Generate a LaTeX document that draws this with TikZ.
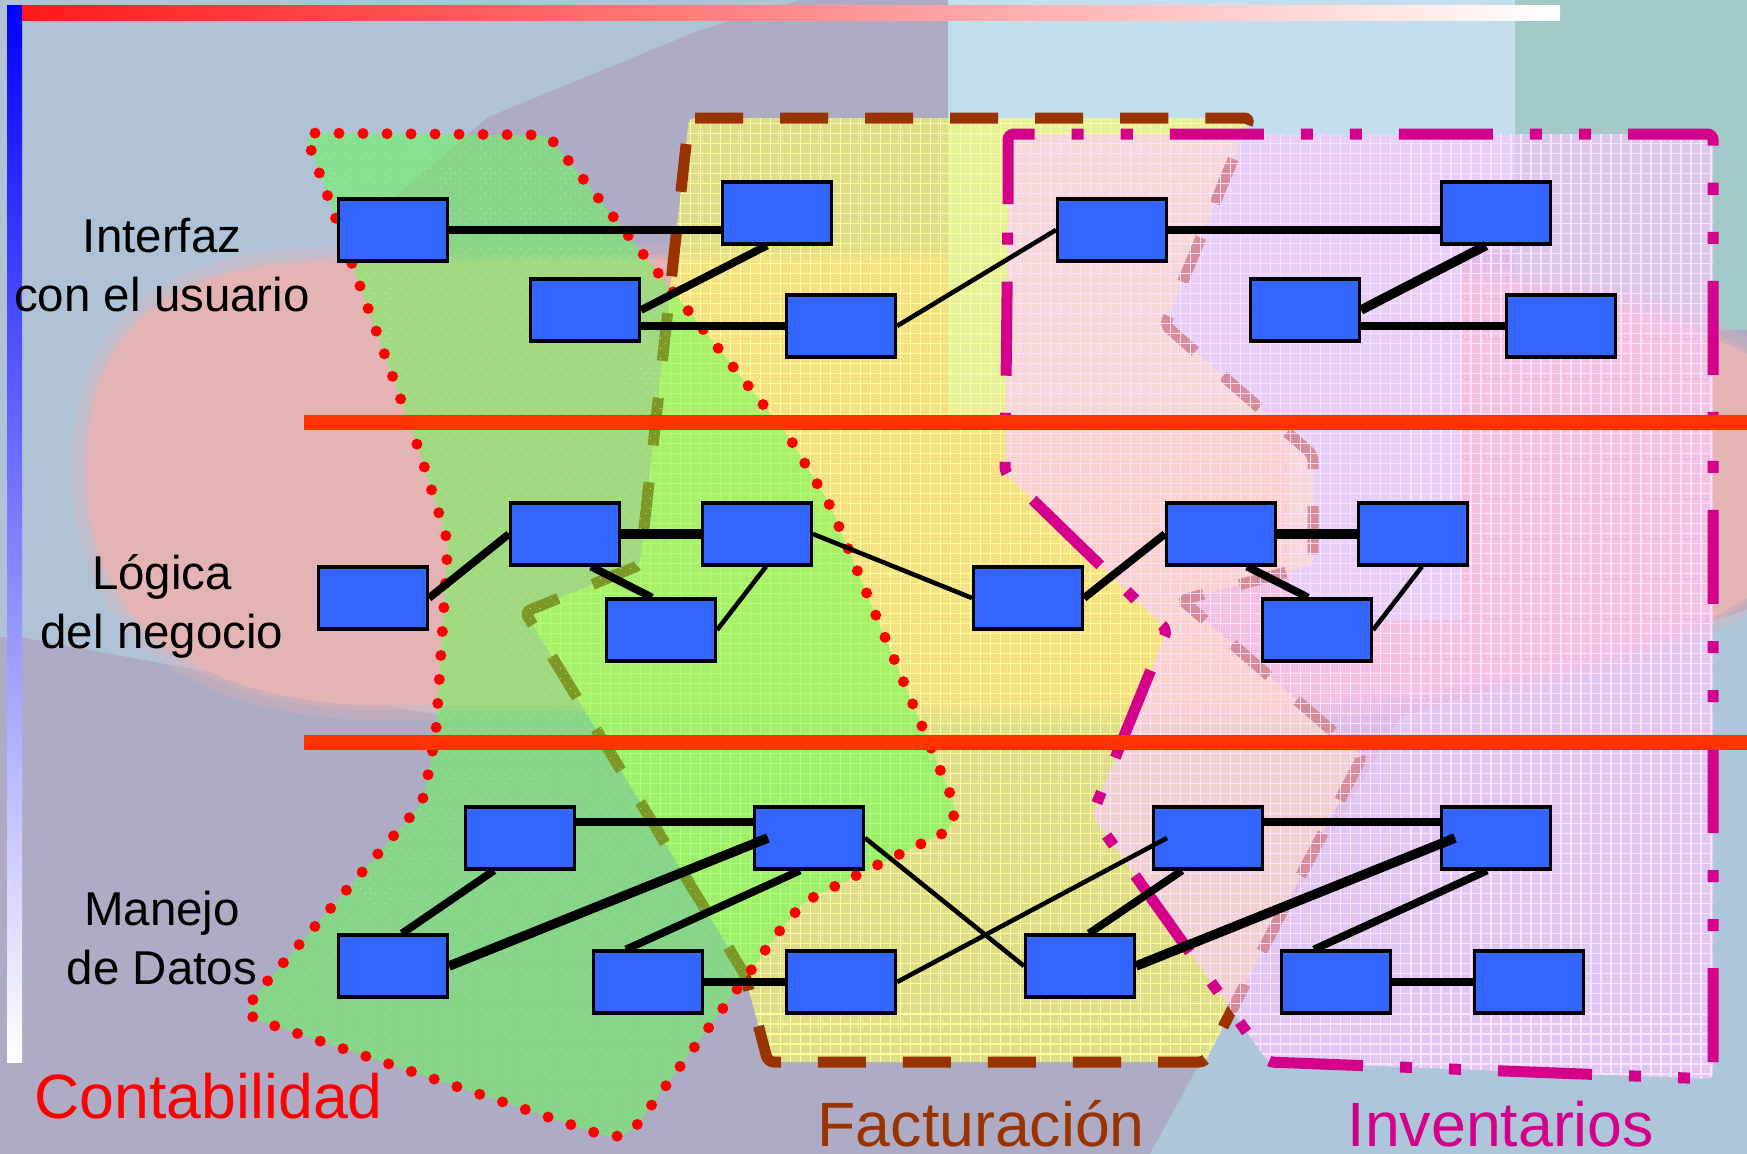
\documentclass[tikz,border=0pt]{standalone}
\usepackage{fontspec}
\setmainfont{Liberation Sans}
\usetikzlibrary{patterns.meta}

\definecolor{modazul}{HTML}{3366FF}
\definecolor{rojocapa}{HTML}{FF3300}
\definecolor{contarojo}{HTML}{FF0000}
\definecolor{factcafe}{HTML}{993300}
\definecolor{invmagenta}{HTML}{D4008C}
\definecolor{contaverde}{HTML}{60FF50}
\definecolor{factamarillo}{HTML}{FFFF66}
\definecolor{invrosa}{HTML}{FFC8FF}
\definecolor{tramaverde}{HTML}{B0FFA0}
\definecolor{tramaamarilla}{HTML}{FFFF99}
\definecolor{tramarosa}{HTML}{FFE0FF}
\definecolor{fondo}{HTML}{AEABC4}
\definecolor{fondoazul}{HTML}{B0C2D6}
\definecolor{fondocielo}{HTML}{C2DEEF}
\definecolor{fondoverde}{HTML}{A2C8C8}
\definecolor{fondorosa}{HTML}{E4B4B4}
\definecolor{fondoclaro}{HTML}{AEC6DA}

\tikzset{
  modulo/.style={draw=black, line width=1pt, fill=modazul, minimum width=1.085cm, minimum height=0.615cm, inner sep=0pt},
  enlace/.style={line width=2.2pt},
  enlacegrueso/.style={line width=2.7pt},
  enlacefino/.style={line width=1.3pt},
  capa/.style={align=center, inner sep=0pt, font=\fontsize{13.5}{16.8}\selectfont},
  sistema/.style={anchor=base west, inner sep=0pt, text depth=0pt, font=\fontsize{17.8}{21}\selectfont},
  separador/.style={draw=rojocapa, line width=0.15cm},
  trama/.style={pattern={Hatch[distance=0.1cm, line width=0.012cm]}, pattern color=#1, fill opacity=0.55},
  conta/.style={preaction={fill=contaverde, fill opacity=0.5}, trama=tramaverde,
    draw=contarojo, line width=0.11cm, line cap=round, dash pattern=on 0cm off 0.24cm, rounded corners=0.1cm},
  fact/.style={preaction={fill=factamarillo, fill opacity=0.6}, trama=tramaamarilla,
    draw=factcafe, line width=0.11cm, dash pattern=on 0.48cm off 0.37cm, rounded corners=0.06cm},
  inv/.style={preaction={fill=invrosa, fill opacity=0.6}, trama=tramarosa,
    draw=invmagenta, line width=0.11cm, dash pattern=on 0.94cm off 0.37cm on 0.12cm off 0.37cm on 0.12cm off 0.37cm, rounded corners=0.06cm}
}

\begin{document}
\begin{tikzpicture}[x=0.01cm, y=-0.01cm]
	\useasboundingbox (0,0) rectangle (1747,1154);

	\fill[fondo] (0,0) rectangle (1747,1154);
	\fill[fondoazul] (0,0) -- (800,0) -- (700,30) -- (488,117) -- (380,210) -- (440,715) -- (20,637) -- (0,637) -- cycle;
	\fill[fondoverde] (1515,0) rectangle (1747,330);
	\fill[fondoclaro] (1150,1154) -- (1240,990) -- (1400,717) -- (1747,610) -- (1747,1154) -- cycle;
	\foreach \w/\o in {0.4cm/0.3, 0.2cm/0.4, 0.1cm/1}
		\filldraw[fondorosa, line width=\w, opacity=\o] (92,470) .. controls (92,330) and (170,268) .. (340,266) -- (1100,262)
			.. controls (1600,262) and (1830,350) .. (1830,470) .. controls (1830,600) and (1600,695) .. (1200,705)
			-- (360,700) .. controls (180,690) and (92,610) .. (92,470) -- cycle;
	\fill[fondocielo] (948,0) -- (1515,0) -- (1515,250) -- (1460,250) -- (1460,620) -- (1290,620) -- (1290,430) -- (948,430) -- cycle;

	\shade[left color=red!90!white, right color=white] (22,5) rectangle (1560,20);
	\shade[top color=blue, bottom color=white] (7,5) rectangle (22,1062);

	\path[fact] (689,118) -- (1250,118) -- (1165,325) -- (1313,455) -- (1313,565) -- (1182,600) -- (1362,757)
		-- (1205,1062) -- (768,1062) -- (745,975) -- (525,612) -- (640,565) -- cycle;
	\path[conta] (305,133) -- (548,135) -- (789,437) -- (830,505) -- (956,808) -- (950,830) -- (933,838)
		-- (867,870) -- (804,902) -- (772,940) -- (760,958) -- (631,1133) -- (611,1138) -- (248,1017)
		-- (251,1000) -- (423,802) -- (436,732) -- (442,637) -- (448,542) -- (419,450) -- cycle;
	\path[inv] (1008,210) -- (1008,134) -- (1713,134) -- (1713,1079) -- (1268,1062) -- (1092,815)
		-- (1167,630) -- (1005,473) -- cycle;

	\draw[separador] (304,422) -- (1747,422);
	\draw[separador] (304,742) -- (1747,742);

	\node [modulo] (A1) at (393,230)  {};
	\node [modulo] (A2) at (777,213)  {};
	\node [modulo] (A3) at (585,310)  {};
	\node [modulo] (A4) at (841,326)  {};
	\node [modulo] (A5) at (1112,230) {};
	\node [modulo] (A6) at (1496,213) {};
	\node [modulo] (A7) at (1305,310) {};
	\node [modulo] (A8) at (1561,326) {};

	\node [modulo] (B1) at (373,598)  {};
	\node [modulo] (B2) at (565,534)  {};
	\node [modulo] (B3) at (757,534)  {};
	\node [modulo] (B4) at (661,630)  {};
	\node [modulo] (B5) at (1028,598) {};
	\node [modulo] (B6) at (1221,534) {};
	\node [modulo] (B7) at (1413,534) {};
	\node [modulo] (B8) at (1317,630) {};

	\node [modulo] (C1)  at (520,838)  {};
	\node [modulo] (C2)  at (809,838)  {};
	\node [modulo] (C3)  at (393,966)  {};
	\node [modulo] (C4)  at (648,982)  {};
	\node [modulo] (C5)  at (841,982)  {};
	\node [modulo] (C6)  at (1208,838) {};
	\node [modulo] (C7)  at (1496,838) {};
	\node [modulo] (C8)  at (1080,966) {};
	\node [modulo] (C9)  at (1336,982) {};
	\node [modulo] (C10) at (1529,982) {};

	\draw [enlace]       (A1.east) -- (A1.east -| A2.west);
	\draw [enlace]       ([xshift=-1mm]A2.south) -- (A3.east);
	\draw [enlace]       (A4.west -| A3.east) -- (A4.west);
	\draw [enlacefino]   (A4.east) -- (A5.west);
	\draw [enlace]       (A5.east) -- (A5.east -| A6.west);
	\draw [enlacegrueso] ([xshift=-1mm]A6.south) -- (A7.east);
	\draw [enlace]       (A8.west -| A7.east) -- (A8.west);

	\draw [enlace]       (B1.east) -- (B2.west);
	\draw [enlacegrueso] (B2.east) -- (B3.west);
	\draw [enlace]       ([xshift=2.6mm]B2.south) -- ([xshift=-0.9mm]B4.north);
	\draw [enlacefino]   ([xshift=0.9mm]B3.south) -- (B4.east);
	\draw [enlacefino]   (B3.east) -- (B5.west);
	\draw [enlace]       (B5.east) -- (B6.west);
	\draw [enlacegrueso] (B6.east) -- (B7.west);
	\draw [enlace]       ([xshift=2.6mm]B6.south) -- ([xshift=-0.9mm]B8.north);
	\draw [enlacefino]   ([xshift=0.9mm]B7.south) -- (B8.east);

	\draw [enlace]       ([yshift=1.6mm]C1.east) -- ([yshift=1.6mm]C1.east -| C2.west);
	\draw [enlace]       ([xshift=-2.6mm]C1.south) -- ([xshift=0.9mm]C3.north);
	\draw [enlacegrueso] ([xshift=1.5mm]C2.west) -- (C3.east);
	\draw [enlace]       ([xshift=-0.9mm]C2.south) -- ([xshift=-2.2mm]C4.north);
	\draw [enlace]       (C4.east) -- (C5.west);
	\draw [enlacefino]   (C2.east) -- (C8.west);
	\draw [enlacefino]   (C5.east) -- ([xshift=1.5mm]C6.west);
	\draw [enlace]       ([yshift=1.6mm]C6.east) -- ([yshift=1.6mm]C6.east -| C7.west);
	\draw [enlace]       ([xshift=-2.6mm]C6.south) -- ([xshift=0.9mm]C8.north);
	\draw [enlacegrueso] ([xshift=1.5mm]C7.west) -- (C8.east);
	\draw [enlace]       ([xshift=-0.9mm]C7.south) -- ([xshift=-2.2mm]C9.north);
	\draw [enlace]       (C9.east) -- (C10.west);

	\node [capa] (interfaz) at (162,265) {Interfaz\\con el usuario};
	\node [capa] (logica)   at (162,606) {Lógica\\del negocio};
	\node [capa] (datos)    at (162,938) {Manejo\\de Datos};

	\node [sistema, text=contarojo]  (contabilidad) at (34,1118)   {Contabilidad};
	\node [sistema, text=factcafe]   (facturacion)  at (817,1146)  {Facturación};
	\node [sistema, text=invmagenta] (inventarios)  at (1347,1146) {Inventarios};
\end{tikzpicture}
\end{document}
